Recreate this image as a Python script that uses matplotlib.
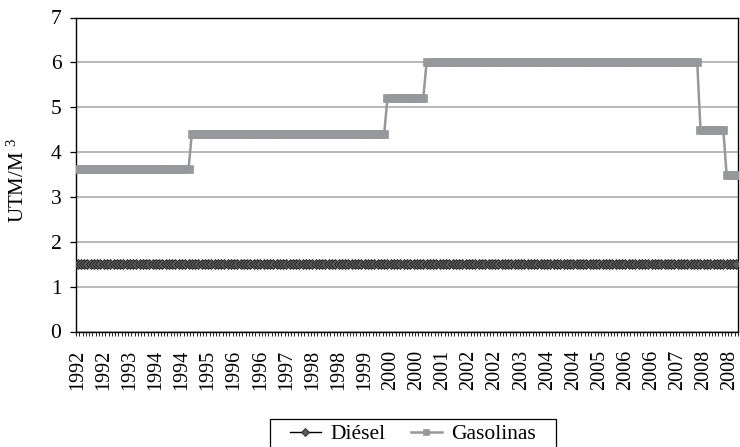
import matplotlib
matplotlib.use("Agg")
import matplotlib.pyplot as plt
from matplotlib.patches import Rectangle
import numpy as np
import pandas as pd

plt.rcParams['font.family'] = ['Liberation Serif', 'DejaVu Serif']
plt.rcParams['mathtext.fontset'] = 'custom'
plt.rcParams['mathtext.rm'] = 'Liberation Serif'
plt.rcParams['mathtext.it'] = 'Liberation Serif:italic'

# Monthly categories, Jan 1992 .. Nov 2008
n_months = 203
months = pd.date_range('1992-01-01', periods=n_months, freq='MS')
cat_labels = [str(d.year) for d in months]

# Diesel level (constant)
diesel_level = 1.5
# Gasoline levels and how many months each lasted
gas_levels = [3.62, 4.4, 5.2, 6.0, 4.5, 3.5]
gas_counts = [35, 60, 12, 84, 8, 4]

diesel = [diesel_level] * n_months
gasolinas = []
for lv, c in zip(gas_levels, gas_counts):
    gasolinas += [lv] * c

label_every = 8
yticks = [0, 1, 2, 3, 4, 5, 6, 7]

W, H = 740, 447
fig = plt.figure(figsize=(W/100, H/100), dpi=100)
L, R, T, B = 76, 738, 17.5, 331.5
ax = fig.add_axes([L/W, 1-B/H, (R-L)/W, (B-T)/H])

x = np.arange(n_months)
gray = '#97989c'
ax.plot(x, gasolinas, color=gray, lw=1.8, marker='s', ms=5.4,
        mec=gray, mfc=gray, mew=0.5, label='Gasolinas', zorder=3)
ax.plot(x, diesel, color='black', lw=1.0, marker='D', ms=5.0,
        mec='#222222', mfc='#5a5a5a', mew=0.6, label='Diésel', zorder=4)

ax.set_xlim(-0.5, n_months - 0.5)
ax.set_ylim(0, 7)
ax.set_yticks(yticks)
ax.set_yticklabels([str(v) for v in yticks], fontsize=15.5)
ax.yaxis.grid(True, color='#b3b3b3', lw=1.3)
ax.set_axisbelow(True)

major = np.arange(0, n_months, label_every)
ax.set_xticks(major)
ax.set_xticklabels([cat_labels[i] for i in major], rotation=90, fontsize=14.5)
ax.set_xticks(np.arange(-0.5, n_months, 1), minor=True)
ax.tick_params(axis='x', which='major', length=0, pad=13)
ax.tick_params(axis='x', which='minor', length=3, width=0.6, direction='out')
ax.tick_params(axis='y', which='major', length=4, width=0.9, direction='out', pad=6.5)

for s in ax.spines.values():
    s.set_color('black')
    s.set_linewidth(1.0)

ax.set_ylabel('UTM/M $^{3}$', fontsize=15)
ax.yaxis.set_label_coords(-0.072, 0.48)

h, l = ax.get_legend_handles_labels()
leg = fig.legend(h[::-1], l[::-1], loc='center', bbox_to_anchor=(413/W, 1-434/H),
                 ncol=2, fontsize=15.5, frameon=False,
                 handlelength=1.45, handletextpad=0.45, borderpad=0.2,
                 columnspacing=1.15, markerscale=0.75)
fig.patches.append(Rectangle((270/W, -0.01), (556-270)/W, 0.01 + 1-419/H,
                             transform=fig.transFigure, fill=False,
                             edgecolor='black', lw=0.9))

fig.savefig('out.png', dpi=100)
